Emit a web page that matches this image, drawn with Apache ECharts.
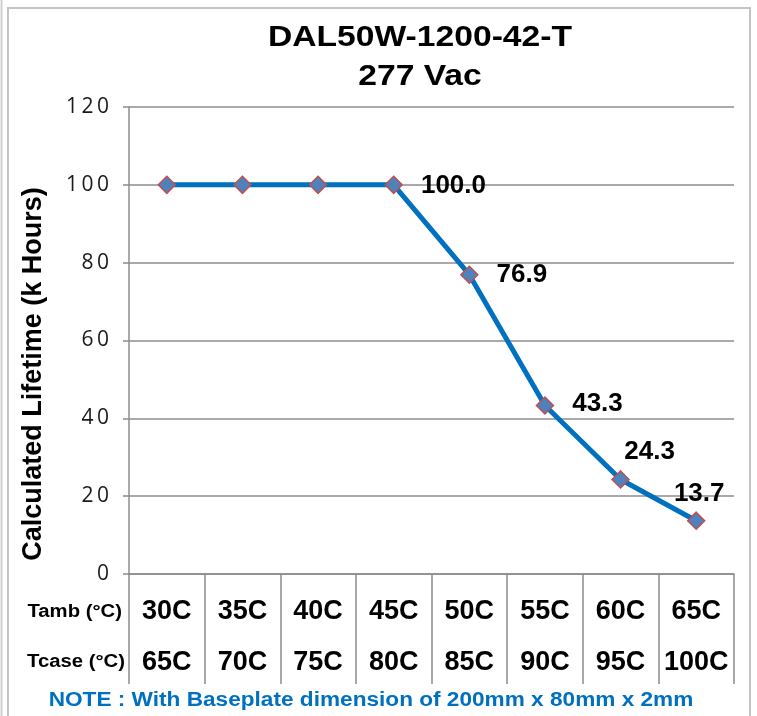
<!DOCTYPE html>
<html>
<head>
<meta charset="utf-8">
<script src="https://cdn.jsdelivr.net/npm/echarts@6/dist/echarts.min.js"></script>
<style>
html,body{margin:0;padding:0;background:#fff;}
#chart{width:757px;height:716px;}
</style>
</head>
<body>
<div id="chart"></div>
<script>
// ---- data ----
var titleLines = ['DAL50W-1200-42-T', '277 Vac'];
var tambLabels = ['30C','35C','40C','45C','50C','55C','60C','65C'];
var tcaseLabels = ['65C','70C','75C','80C','85C','90C','95C','100C'];
var lifetime = [100, 100, 100, 100, 76.9, 43.3, 24.3, 13.7];
var yTicks = [0, 20, 40, 60, 80, 100, 120];
var labelShown = [false, false, false, true, true, true, true, true];

var FONT = '"Liberation Sans", Arial, sans-serif';
var STRETCH = 1.16;

// style of each value label (display only)
var labelStyle = [
  null, null, null,
  {position: 'right', distance: 18, offset: [0, 1]},
  {position: 'right', distance: 18, offset: [0, 0]},
  {position: 'right', distance: 18, offset: [0, -2]},
  {position: 'top', distance: 5, offset: [29, 0]},
  {position: 'top', distance: 5, offset: [3, 0]}
];

var seriesData = lifetime.map(function (v, i) {
  var item = {value: v};
  if (labelShown[i]) {
    item.label = Object.assign({
      show: true,
      formatter: function (p) { return p.value.toFixed(1); },
      fontFamily: FONT,
      fontWeight: 'bold',
      fontSize: 26,
      color: '#000'
    }, labelStyle[i]);
  }
  return item;
});

var catLabels = tambLabels.map(function (t, i) { return t + '\n' + tcaseLabels[i]; });

function stretchedText(x, y, text, size, color, align) {
  return {
    type: 'text', x: x, y: y, scaleX: STRETCH, scaleY: 1,
    style: {text: text, fontFamily: FONT, fontWeight: 'bold', fontSize: size, fill: color,
            align: align, verticalAlign: 'middle'},
    silent: true
  };
}

var chart = echarts.init(document.getElementById('chart'), null, {renderer: 'canvas'});
chart.setOption({
  backgroundColor: '#fff',
  animation: false,
  grid: {left: 129, right: 23, top: 107, bottom: 142, containLabel: false},
  xAxis: {
    type: 'category',
    data: catLabels,
    boundaryGap: true,
    axisLine: {show: true, lineStyle: {color: '#8c8c8c', width: 1.5}},
    axisTick: {show: true, length: 110, alignWithLabel: false, lineStyle: {color: '#8c8c8c', width: 1.5}},
    axisLabel: {
      interval: 0,
      margin: 12,
      fontFamily: FONT,
      fontWeight: 'bold',
      fontSize: 27,
      lineHeight: 51,
      color: '#000'
    },
    splitLine: {show: false}
  },
  yAxis: {
    type: 'value',
    min: yTicks[0],
    max: yTicks[yTicks.length - 1],
    interval: 20,
    axisLine: {show: true, lineStyle: {color: '#8c8c8c', width: 1.5}},
    axisTick: {show: true, inside: false, length: 6, lineStyle: {color: '#8c8c8c', width: 1.5}},
    axisLabel: {
      margin: 20,
      fontFamily: '"Open Sans", "Liberation Sans", sans-serif',
      fontSize: 21,
      color: '#1a1a1a',
      formatter: function (v) { return String(v).split('').join('\u2009'); }
    },
    splitLine: {show: true, lineStyle: {color: '#8c8c8c', width: 1.5}}
  },
  series: [{
    type: 'line',
    data: seriesData,
    symbol: 'diamond',
    symbolSize: 17,
    lineStyle: {color: '#0070C0', width: 5},
    itemStyle: {color: '#4F81BD', borderColor: '#C0504D', borderWidth: 1.5},
    z: 3
  }],
  graphic: [
    {type: 'rect', shape: {x: 8, y: 8, width: 742, height: 730}, style: {fill: 'none', stroke: '#c4c4c4', lineWidth: 2}, silent: true},
    {type: 'line', shape: {x1: 1.5, y1: 0, x2: 1.5, y2: 716}, style: {stroke: '#d0d0d0', lineWidth: 2}, silent: true},
    stretchedText(420, 38, titleLines[0], 29, '#000', 'center'),
    stretchedText(420, 77, titleLines[1], 29, '#000', 'center'),
    {
      type: 'text',
      x: 34, y: 374,
      rotation: Math.PI / 2,
      style: {
        text: 'Calculated Lifetime (k Hours)',
        fontFamily: FONT, fontWeight: 'bold', fontSize: 27, fill: '#000',
        align: 'center', verticalAlign: 'middle'
      },
      silent: true
    },
    stretchedText(122, 612, 'Tamb (°C)', 17.5, '#000', 'right'),
    stretchedText(125, 662, 'Tcase (°C)', 17.5, '#000', 'right'),
    stretchedText(371, 701, 'NOTE : With Baseplate dimension of 200mm x 80mm x 2mm', 19.5, '#0070C0', 'center')
  ]
});
</script>
</body>
</html>
